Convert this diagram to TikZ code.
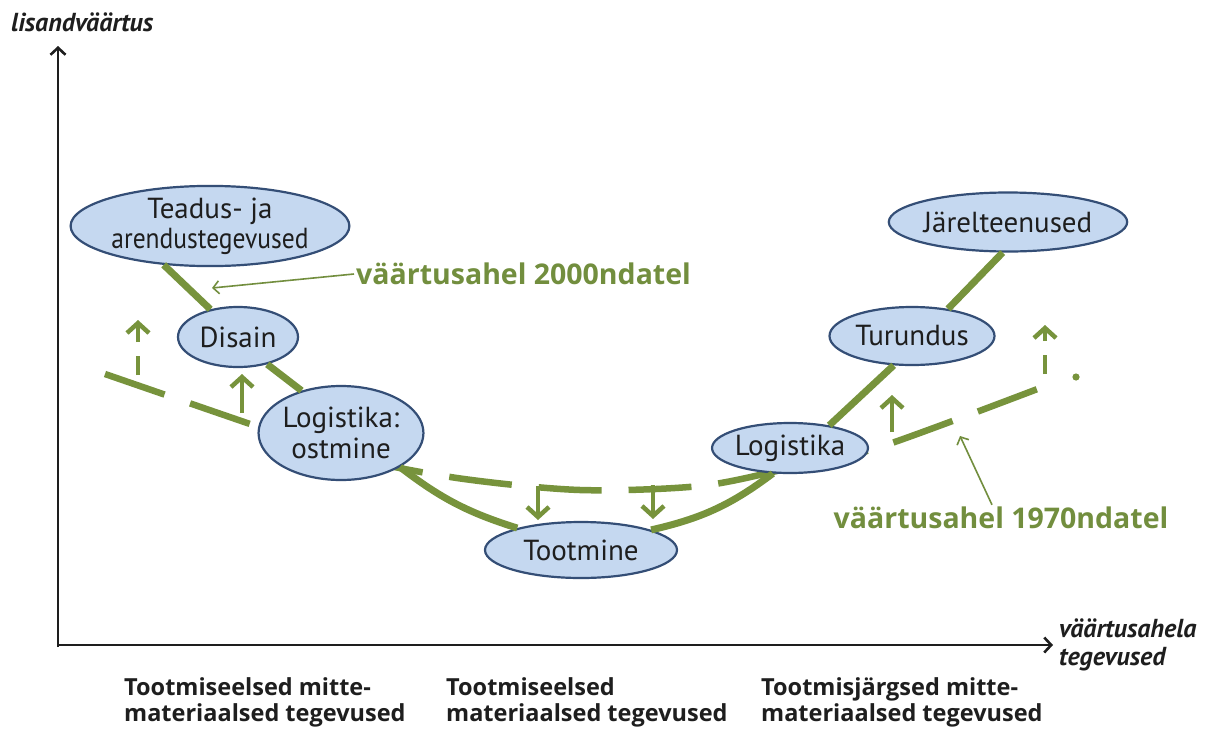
\documentclass[tikz,border=0pt]{standalone}
\usepackage{fontspec}
\setmainfont{PT Sans}
\newfontfamily\labelfont{Open Sans}
\usetikzlibrary{shapes.geometric,arrows.meta,calc}
\definecolor{vgreen}{RGB}{119,147,60}
\definecolor{tgreen}{RGB}{114,142,62}
\definecolor{efill}{RGB}{197,216,240}
\definecolor{edraw}{RGB}{52,78,118}
\definecolor{ink}{RGB}{30,30,30}
\pgfdeclarelayer{bg}
\pgfsetlayers{bg,main}
\begin{document}
\begin{tikzpicture}[x=1pt,y=-1pt,
  blob/.style={ellipse, draw=edraw, line width=2.2pt, fill=efill, inner sep=0pt,
    align=center, text=ink, font=\fontsize{29}{31}\selectfont},
  chain/.style={vgreen, line width=7pt},
  oldchain/.style={vgreen, line width=6.5pt, dash pattern=on 63pt off 27pt},
  tickarrow/.style={vgreen, line width=4.5pt, -{Straight Barb[length=10pt,width=22pt]}},
  thinarrow/.style={tgreen, line width=1.6pt, -{Straight Barb[length=6pt,width=13pt]}},
  glabel/.style={text=tgreen, font=\labelfont\fontsize{28.5}{30}\selectfont\bfseries, inner sep=2pt},
  axis/.style={ink, line width=2.6pt, -{Straight Barb[length=7pt,width=15pt]}},
  axlabel/.style={text=ink, font=\fontsize{26}{28}\selectfont\bfseries\itshape, inner sep=0pt, align=left},
  botlabel/.style={text=ink, font=\labelfont\fontsize{23.5}{26}\selectfont\bfseries, inner sep=0pt, align=left}
]
\useasboundingbox (0,0) rectangle (1214,728);
\begin{pgfonlayer}{bg}
\fill[white] (0,0) rectangle (1214,728);
\end{pgfonlayer}

% axes
\coordinate (O) at (58,645);
\coordinate (ybot) at (58,647);
\coordinate (ytop) at (58,46);
\coordinate (xend) at (1053,645);
\draw[axis] (ybot) -- (ytop);
\draw[axis] (O) -- (xend);
\node[axlabel, anchor=west] (ylab) at (11,22) {lisandväärtus};
\node[axlabel, anchor=north west] (xlab) at (1059,619) {väärtusahela\\tegevused};

% ellipses
\node[blob, minimum width=275pt, minimum height=77pt] (teadus) at (210,226) {Teadus- ja\\[-1pt]\scalebox{0.88}[1]{arendustegevused}};
\node[blob, minimum width=120pt, minimum height=60pt] (disain) at (238,337) {Disain};
\node[blob, minimum width=158pt, minimum height=94pt] (log1) at (341,433) {Logistika:\\ostmine};
\node[blob, minimum width=192pt, minimum height=56pt] (toot) at (581,550) {Tootmine};
\node[blob, minimum width=146pt, minimum height=50pt] (log2) at (790,448) {Logistika};
\node[blob, minimum width=165pt, minimum height=58pt] (turu) at (912,336) {Turundus};
\node[blob, minimum width=209pt, minimum height=59pt] (jarel) at (1008,222) {Järelteenused};

% value chain 1970s (behind the ellipses)
\begin{pgfonlayer}{bg}
\coordinate (d1) at (105,374);
\coordinate (d2) at (253,425);
\coordinate (d3) at (345,456);
\coordinate (d4) at (457,478);
\coordinate (d5) at (580,490);
\coordinate (d6) at (700,486);
\coordinate (d7) at (790,468);
\coordinate (d8) at (880,447);
\coordinate (d9) at (1048,385);
\draw[oldchain] plot[smooth, tension=0.5] coordinates {(d1) (d2) (d3) (d4) (d5) (d6) (d7) (d8) (d9)};
\end{pgfonlayer}
\coordinate (dot) at (1076,377);
\fill[vgreen] (dot) circle (3.6);

% value chain 2000s
\draw[chain] (teadus.220) -- (disain.135);
\draw[chain] (disain.317) -- (log1.133);
\draw[chain] (log1.330) to[bend right=10] (toot.161);
\draw[chain] (toot.16) to[bend right=12] (log2.236);
\draw[chain] (log2.30) -- (turu.238);
\draw[chain] (turu.37) -- (jarel.260);

% shift arrows
\coordinate (a1s) at (138,375); \coordinate (a1e) at (138,320);
\draw[tickarrow, dash pattern=on 19pt off 14pt] (a1s) -- (a1e);
\coordinate (a2s) at (242,413); \coordinate (a2e) at (242,374);
\draw[tickarrow] (a2s) -- (a2e);
\coordinate (a3s) at (538,486); \coordinate (a3e) at (538,520);
\draw[tickarrow] (a3s) -- (a3e);
\coordinate (a4s) at (653,485); \coordinate (a4e) at (653,519);
\draw[tickarrow] (a4s) -- (a4e);
\coordinate (a5s) at (892,432); \coordinate (a5e) at (892,395);
\draw[tickarrow] (a5s) -- (a5e);
\coordinate (a6s) at (1045,374); \coordinate (a6e) at (1045,325);
\draw[tickarrow, dash pattern=on 19pt off 14pt] (a6s) -- (a6e);

% labels
\node[glabel, anchor=west] (l2000) at (354,274) {väärtusahel 2000ndatel};
\coordinate (t2000) at (212,288);
\draw[thinarrow] (l2000.west) -- (t2000);
\node[glabel] (l1970) at (1001,518) {väärtusahel 1970ndatel};
\coordinate (t1970) at (960,436);
\draw[thinarrow] ($(l1970.north)+(-9,0)$) -- (t1970);

% bottom labels
\node[botlabel, anchor=north west] (b1) at (124,677) {Tootmiseelsed mitte-\\materiaalsed tegevused};
\node[botlabel, anchor=north west] (b2) at (446,677) {Tootmiseelsed\\materiaalsed tegevused};
\node[botlabel, anchor=north west] (b3) at (761,677) {Tootmisjärgsed mitte-\\materiaalsed tegevused};
\end{tikzpicture}
\end{document}
